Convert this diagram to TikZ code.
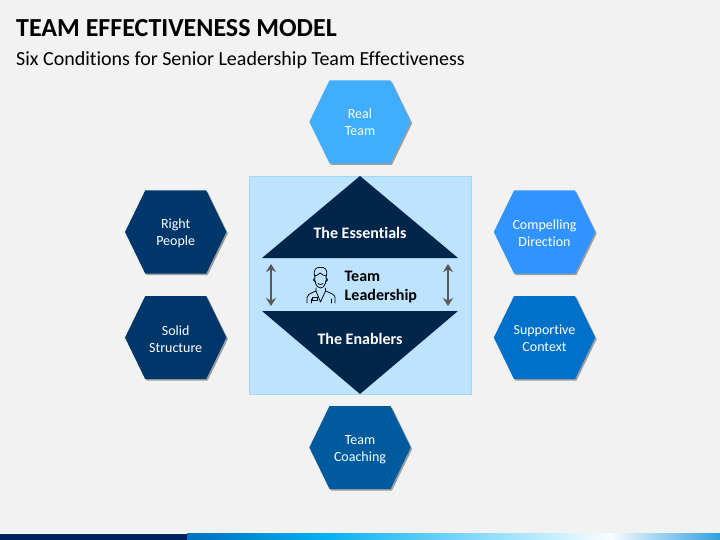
\documentclass[tikz,border=0pt]{standalone}
\usepackage{fontspec}
\setmainfont{Carlito}[Ligatures=NoCommon]
\usepackage{xcolor}
\usetikzlibrary{arrows.meta, shadows}

\definecolor{pagegray}{HTML}{F2F2F2}
\definecolor{realblue}{HTML}{41ADFF}
\definecolor{compelblue}{HTML}{2F94FF}
\definecolor{supportblue}{HTML}{0070C8}
\definecolor{coachblue}{HTML}{005A9E}
\definecolor{solidblue}{HTML}{00376B}
\definecolor{rightblue}{HTML}{00376B}
\definecolor{squareblue}{HTML}{BDE3FF}
\definecolor{squareedge}{HTML}{A3D5FB}
\definecolor{navytri}{HTML}{02264B}
\definecolor{arrowgray}{HTML}{595959}
\definecolor{bardark}{HTML}{002060}
\definecolor{barone}{HTML}{0070C0}
\definecolor{bartwo}{HTML}{00B0F0}
\definecolor{barthree}{HTML}{CDF0FF}
\definecolor{barfour}{HTML}{FAFDFF}
\definecolor{barfive}{HTML}{2F9FE0}

\tikzset{
    hexshape/.style={drop shadow={shadow xshift=1.5pt, shadow yshift=-1.5pt, opacity=0.35, fill=black}},
    hextext/.style={align=center, text=white, inner sep=0pt, font=\fontsize{14}{17}\selectfont},
    tritext/.style={text=white, font=\fontsize{16}{18}\bfseries\selectfont, inner sep=0pt},
    updown/.style={{Stealth[length=8pt, width=10pt]}-{Stealth[length=8pt, width=10pt]}, arrowgray, line width=1.5pt},
    iconline/.style={black, line width=0.75pt, line cap=round, line join=round}
}

% 六边形 + 文字
\newcommand{\hexcell}[6][]{
    \fill[#5, hexshape] (#3-50.7, #4) -- (#3-30.5, #4-41.5) -- (#3+30.5, #4-41.5) -- (#3+50.7, #4) -- (#3+30.5, #4+41.5) -- (#3-30.5, #4+41.5) -- cycle;
    \node[hextext, #1] (#2) at (#3, #4) {#6};
}

\begin{document}
\begin{tikzpicture}[x=1pt, y=-1pt]
    % 背景
    \fill[pagegray] (0, 0) rectangle (720, 540);
    \useasboundingbox (0, 0) rectangle (720, 540);

    % 标题
    \node[anchor=base west, inner sep=0pt, font=\fontsize{26}{30}\bfseries\selectfont] (title) at (16, 36.5) {TEAM EFFECTIVENESS MODEL};
    \node[anchor=base west, inner sep=0pt, font=\fontsize{20}{24}\selectfont] (subtitle) at (16, 65.5) {Six Conditions for Senior Leadership Team Effectiveness};

    % 中间方块
    \draw[fill=squareblue, draw=squareedge, line width=0.8pt] (249, 176) rectangle (471, 394);

    % 上下三角
    \fill[navytri] (360, 176) -- (458, 258) -- (262, 258) -- cycle;
    \fill[navytri] (360, 394) -- (458, 311) -- (262, 311) -- cycle;
    \node[tritext] (essentials) at (360, 233) {The Essentials};
    \node[tritext] (enablers) at (360, 338.5) {The Enablers};

    % 六边形
    \hexcell[yshift=-0.5pt]{real}{360}{121.8}{realblue}{Real\\Team}
    \hexcell[yshift=-0.8pt]{compelling}{544.5}{232}{compelblue}{Compelling\\Direction}
    \hexcell[yshift=-1pt]{supportive}{544.5}{337.6}{supportblue}{Supportive\\Context}
    \hexcell[yshift=-2.6pt]{coaching}{360}{447.5}{coachblue}{Team\\Coaching}
    \hexcell[yshift=-1.8pt]{solid}{175.7}{337.6}{solidblue}{Solid\\Structure}
    \hexcell[yshift=-1.5pt]{right}{175.7}{232}{rightblue}{Right\\People}

    % 双向箭头
    \coordinate (leftup) at (271, 264);
    \coordinate (leftdown) at (271, 306);
    \coordinate (rightup) at (448, 264);
    \coordinate (rightdown) at (448, 306);
    \draw[updown] (leftup) -- (leftdown);
    \draw[updown] (rightup) -- (rightdown);

    % 中间文字
    \node[anchor=west, align=left, inner sep=0pt, font=\fontsize{16}{19}\bfseries\selectfont] (leadership) at (344.5, 287.5) {Team\\Leadership};

    % 人像
    \draw[iconline] (314.5, 276) .. controls (313, 270) and (316, 267) .. (320, 267.5) .. controls (325, 266.5) and (328, 270) .. (326.5, 276);
    \draw[iconline] (314.5, 276) .. controls (317, 275.5) and (319, 274.5) .. (320, 273) .. controls (322, 275) and (324, 275.5) .. (326.5, 276);
    \draw[iconline] (315, 275) .. controls (314, 281) and (316, 288) .. (320.5, 288) .. controls (325, 288) and (327, 281) .. (326, 275);
    \draw[iconline] (314.5, 278) -- (313.5, 280) -- (315.5, 282);
    \draw[iconline] (326.5, 278) -- (327.5, 280) -- (325.5, 282);
    \draw[iconline] (318, 283.5) .. controls (319.5, 285) and (321.5, 285) .. (323, 283.5);
    \draw[iconline] (307, 303) -- (307, 297.5) .. controls (307, 295) and (309, 294) .. (316, 291) -- (316, 288);
    \draw[iconline] (335, 303) -- (335, 297.5) .. controls (335, 295) and (333, 294) .. (325.5, 291) -- (325.5, 288);
    \draw[iconline] (316, 291) -- (320.5, 302) -- (325.5, 291);
    \draw[iconline] (311, 303) -- (311, 299);
    \draw[iconline] (331, 303) -- (331, 299);
    \draw[iconline] (312.5, 297) rectangle (317, 300.5);

    % 底部色条
    \fill[white] (0, 532.6) rectangle (720, 534);
    \fill[bardark] (0, 533.6) rectangle (187, 540);
    \shade[left color=barone, right color=bartwo] (187, 533.6) rectangle (320, 540);
    \shade[left color=bartwo, right color=barthree] (320, 533.6) rectangle (560, 540);
    \shade[left color=barthree, right color=barfour] (560, 533.6) rectangle (610, 540);
    \shade[left color=barfour, right color=barfive] (610, 533.6) rectangle (720, 540);
\end{tikzpicture}
\end{document}
